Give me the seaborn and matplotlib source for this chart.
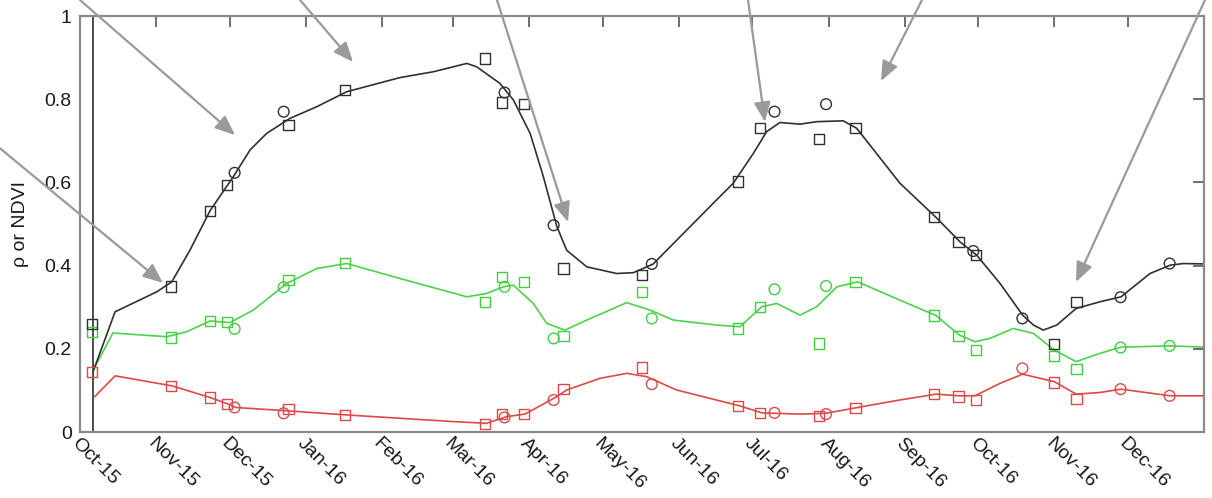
import matplotlib
matplotlib.use("Agg")
import numpy as np
import pandas as pd
import seaborn as sns
import matplotlib.pyplot as plt
import matplotlib.dates as mdates
from matplotlib.ticker import FuncFormatter

sns.set_style("white")
plt.rcParams["font.family"] = ["Liberation Sans", "DejaVu Sans"]

# ---- acquisition dates -------------------------------------------------
square_dates = ["2015-10-06", "2015-11-07", "2015-11-23", "2015-11-30", "2015-12-25",
                "2016-01-17", "2016-03-14", "2016-03-21", "2016-03-30", "2016-04-15",
                "2016-05-17", "2016-06-25", "2016-07-04", "2016-07-28", "2016-08-12",
                "2016-09-13", "2016-09-23", "2016-09-30", "2016-11-01", "2016-11-10"]
circle_dates = ["2015-12-03", "2015-12-23", "2016-03-22", "2016-04-11", "2016-05-21",
                "2016-07-10", "2016-07-31", "2016-09-29", "2016-10-19", "2016-11-28",
                "2016-12-18"]

# ---- observed values (NaN = no usable observation) ---------------------
nan = np.nan
ndvi_sq = [0.260, 0.350, 0.532, 0.594, 0.738, 0.822, 0.898, 0.792, 0.788, 0.393,
           0.377, 0.602, 0.730, 0.704, 0.730, 0.516, 0.457, 0.425, 0.212, 0.312]
ndvi_ci = [0.623, 0.770, 0.816, 0.497, 0.404, 0.770, 0.788, 0.435, 0.273, 0.324, 0.405]

green_sq = [0.240, 0.227, 0.267, 0.265, 0.365, 0.407, 0.313, 0.373, 0.360, 0.231,
            0.337, 0.249, 0.301, 0.213, 0.360, 0.280, 0.231, 0.197, 0.183, 0.151]
green_ci = [0.248, 0.348, 0.349, 0.225, 0.273, 0.343, 0.351, nan, nan, 0.203, 0.207]

red_sq = [0.145, 0.111, 0.083, 0.067, 0.055, 0.041, 0.019, 0.043, 0.043, 0.103,
          0.155, 0.063, 0.046, 0.039, 0.057, 0.091, 0.085, 0.077, 0.119, 0.079]
red_ci = [0.059, 0.045, 0.035, 0.077, 0.115, 0.046, 0.043, nan, 0.153, 0.103, 0.087]

# ---- smoothed curves (days since 1 Oct 2015, value) -------------------
ndvi_curve_day = [5.5, 14.3, 31.3, 37.4, 44.8, 53.0, 62.5, 69.3, 76.1, 85.6, 96.5, 108.7,
                  130.4, 144.0, 157.6, 161.6, 171.1, 176.6, 183.4, 188.8, 194.3, 198.3,
                  206.5, 218.7, 225.5, 233.6, 239.1, 259.4, 266.2, 274.4, 279.8, 285.2,
                  293.4, 300.2, 311.0, 316.5, 334.1, 348.8, 358.6, 365.4, 374.9, 384.1,
                  388.5, 392.5, 398.0, 405.9, 415.6, 424.2, 436.0, 444.2, 449.6, 458.0]
ndvi_curve_val = [0.148, 0.289, 0.337, 0.361, 0.437, 0.532, 0.614, 0.678, 0.718, 0.754,
                  0.782, 0.818, 0.852, 0.866, 0.886, 0.878, 0.838, 0.798, 0.718, 0.614,
                  0.494, 0.437, 0.397, 0.381, 0.383, 0.404, 0.437, 0.558, 0.598, 0.670,
                  0.722, 0.744, 0.740, 0.746, 0.748, 0.730, 0.598, 0.516, 0.457, 0.425,
                  0.357, 0.281, 0.257, 0.245, 0.257, 0.297, 0.313, 0.325, 0.381, 0.401,
                  0.405, 0.404]

green_curve_day = [5.4, 13.4, 35.3, 43.5, 53.0, 61.1, 70.6, 84.2, 96.5, 108.7, 130.4,
                   157.6, 165.7, 172.5, 176.6, 184.7, 190.2, 197.6, 206.5, 222.8, 232.3,
                   241.8, 259.4, 268.9, 277.8, 283.9, 293.4, 300.2, 308.4, 316.9, 334.1,
                   348.8, 358.3, 364.7, 370.8, 380.3, 388.5, 397.0, 405.9, 415.6, 424.2,
                   444.2, 458.0]
green_curve_val = [0.149, 0.238, 0.229, 0.241, 0.267, 0.263, 0.293, 0.357, 0.393, 0.405,
                   0.369, 0.325, 0.333, 0.349, 0.353, 0.309, 0.261, 0.245, 0.269, 0.311,
                   0.293, 0.269, 0.257, 0.253, 0.301, 0.309, 0.281, 0.301, 0.349, 0.361,
                   0.317, 0.280, 0.233, 0.217, 0.225, 0.249, 0.237, 0.197, 0.169, 0.189,
                   0.204, 0.207, 0.204]

red_curve_day = [6.0, 14.3, 37.4, 53.0, 60.4, 63.4, 84.2, 108.7, 130.4, 152.1, 165.7,
                 173.9, 181.3, 194.3, 198.3, 211.9, 222.8, 230.9, 243.1, 268.7, 277.8,
                 293.4, 304.0, 316.9, 334.1, 348.8, 358.3, 364.7, 374.9, 384.1, 397.0,
                 405.9, 415.6, 424.2, 444.2, 458.0]
red_curve_val = [0.085, 0.135, 0.111, 0.083, 0.067, 0.059, 0.051, 0.041, 0.033, 0.025,
                 0.021, 0.037, 0.043, 0.085, 0.101, 0.129, 0.141, 0.133, 0.101, 0.063,
                 0.046, 0.043, 0.045, 0.059, 0.077, 0.091, 0.087, 0.087, 0.117, 0.139,
                 0.121, 0.091, 0.095, 0.103, 0.087, 0.087]

month_ticks = pd.date_range("2015-10-01", "2016-12-01", freq="MS")
y_ticks = [0, 0.2, 0.4, 0.6, 0.8, 1.0]

start = pd.Timestamp("2015-10-01")
first_scene = pd.Timestamp("2015-10-06 12:00")

# ---- figure ------------------------------------------------------------
W, H = 1212, 498
fig = plt.figure(figsize=(W / 100, H / 100), dpi=100)
ax = fig.add_axes([80 / W, 1 - 432 / H, 1124 / W, 416 / H])

ax.axvline(first_scene, color="#2e2e2e", lw=1.2, zorder=1)

bands = [
    (red_curve_day, red_curve_val, red_sq, red_ci, "#e04848", "#e04848"),
    (green_curve_day, green_curve_val, green_sq, green_ci, "#4cd24c", "#3fcf3f"),
    (ndvi_curve_day, ndvi_curve_val, ndvi_sq, ndvi_ci, "#303030", "#303030"),
]

sq_x = pd.to_datetime(square_dates)
ci_x = pd.to_datetime(circle_dates)

for cday, cval, sq, ci, lc, mc in bands:
    cx = start + pd.to_timedelta(cday, unit="D")
    sns.lineplot(x=cx, y=cval, color=lc, lw=1.2, ax=ax, zorder=2)
    sns.scatterplot(x=sq_x, y=sq, marker="s", s=55, facecolor="none",
                    edgecolor=mc, linewidth=1.0, ax=ax, zorder=3)
    sns.scatterplot(x=ci_x, y=ci, marker="o", s=60, facecolor="none",
                    edgecolor=mc, linewidth=1.0, ax=ax, zorder=3)

# ---- axes styling ------------------------------------------------------
ax.set_xlim(start, pd.Timestamp("2017-01-01"))
ax.set_ylim(0, 1)
ax.set_xticks(month_ticks)
ax.xaxis.set_major_formatter(mdates.DateFormatter("%b-%y"))
ax.set_yticks(y_ticks)
ax.yaxis.set_major_formatter(FuncFormatter(lambda v, p: f"{v:g}"))

for side in ["left", "right", "top", "bottom"]:
    ax.spines[side].set_visible(True)
    ax.spines[side].set_color("#8a8a8a")
    ax.spines[side].set_linewidth(1.6)

ax.tick_params(axis="both", direction="in", length=8, width=1.2, color="#555555",
               top=True, right=True, labeltop=False, labelright=False,
               labelsize=14, labelcolor="#1a1a1a")
ax.tick_params(axis="y", pad=6)
ax.tick_params(axis="x", pad=2)

for lab in ax.get_xticklabels():
    lab.set_rotation(-45)
    lab.set_ha("left")
    lab.set_va("top")
    lab.set_rotation_mode("anchor")

ax.set_xlabel("")
ax.set_ylabel("ρ or NDVI", fontsize=14, color="#1a1a1a")
ax.yaxis.set_label_coords(-0.045, 0.5)

# ---- pointer arrows ----------------------------------------------------
arrows = [((-10, 140), (163, 283)),
          ((80, 0), (235, 135)),
          ((300, 0), (353, 62)),
          ((497, 0), (568, 222)),
          ((748, 0), (765, 122)),
          ((922, 0), (881, 81)),
          ((1205, 0), (1076, 282))]
for (tx, ty), (hx, hy) in arrows:
    ax.annotate("", xy=(hx, H - hy), xycoords="figure pixels",
                xytext=(tx, H - ty), textcoords="figure pixels",
                annotation_clip=False,
                arrowprops=dict(arrowstyle="-|>,head_length=0.6,head_width=0.25",
                                mutation_scale=20, color="#9a9a9a", lw=1.6,
                                shrinkA=0, shrinkB=0))

fig.savefig("out.png", dpi=100, facecolor="white")
